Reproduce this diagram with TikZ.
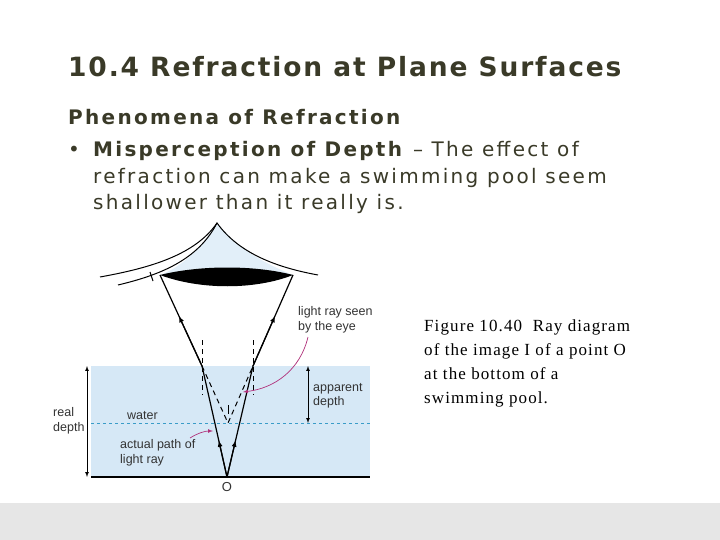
\documentclass[tikz,border=0pt]{standalone}
\usepackage{fontspec}
\usetikzlibrary{calc}
\setmainfont{DejaVu Sans}
\newfontfamily\titlefont[LetterSpace=7]{DejaVu Sans}
\newfontfamily\bodyfont[LetterSpace=11.5]{DejaVu Sans}
\newfontfamily\capfont[LetterSpace=6.5]{Liberation Serif}
\newfontfamily\lblfont{Liberation Sans}
\definecolor{titlec}{HTML}{3A3A28}
\definecolor{waterc}{HTML}{D6E8F6}
\definecolor{dashc}{HTML}{3A9CC8}
\definecolor{magc}{HTML}{B0307A}
\definecolor{bandc}{HTML}{E6E6E6}
\begin{document}
\begin{tikzpicture}[x=1pt,y=-1pt,
  lbl/.style={font=\lblfont\fontsize{12.5}{14.5}\selectfont,text=black!80,align=left,inner sep=0pt},
  ray/.style={line width=1.2pt},
  vdash/.style={line width=1pt,dash pattern=on 5pt off 4pt},
  marr/.style={magc,line width=0.7pt,-latex},
  btext/.style={anchor=base west,inner sep=0pt,text=titlec,font=\bodyfont\fontsize{20}{24}\selectfont}]
\useasboundingbox (0,0) rectangle (720,540);
\fill[white] (0,0) rectangle (720,540);
\fill[bandc] (0,503) rectangle (720,540);
% texts
\node[anchor=base west,inner sep=0pt,text=titlec,font=\titlefont\bfseries\fontsize{26.5}{30}\selectfont] (title) at (68,77) {10.4 Refraction at Plane Surfaces};
\node[btext,font=\bodyfont\bfseries\fontsize{20}{24}\selectfont] (sub) at (68,125) {Phenomena of Refraction};
\node[btext] (bul) at (68,157) {•};
\node[btext] (body) at (93,157) {\textbf{Misperception of Depth} – The ef{}fect of};
\node[btext] (body2) at (93,184) {refraction can make a swimming pool seem};
\node[btext] (body3) at (93,210) {shallower than it really is.};
\node[anchor=north west,inner sep=0pt,font=\capfont\fontsize{17}{24}\selectfont,align=left] (cap) at (424,320) {Figure 10.40\ \ Ray diagram\\of the image I of a point O\\at the bottom of a\\swimming pool.};
% water
\fill[waterc] (91,366) rectangle (370,477);
\draw[dashc,dashed,line width=1pt] (91,423) -- (370,423);
\draw[line width=1.2pt] (91,477) -- (370,477);
% eye
\fill[waterc!70] (217,223) .. controls (200,250) and (180,268) .. (160,275) -- (293,275) .. controls (260,262) and (235,245) .. (217,223) -- cycle;
\draw[line width=1pt] (100,277) .. controls (150,268) and (195,255) .. (217,223) .. controls (240,255) and (280,268) .. (318,275);
\draw[line width=1pt] (118,285) .. controls (160,275) and (198,260) .. (217,223);
\draw[line width=1pt] (150,272) -- (153,281);
\fill (160,275) .. controls (200,290) and (255,290) .. (293,275) .. controls (255,265) and (200,265) .. (160,275) -- cycle;
% rays
\coordinate (O) at (227,477);
\coordinate (L) at (202,366);
\coordinate (R) at (253,366);
\coordinate (E1) at (160,275);
\coordinate (E2) at (293,275);
\coordinate (I) at (228,423);
\draw[ray] (O) -- (L) -- (E1);
\draw[ray] (O) -- (R) -- (E2);
\draw[ray,-latex] (L) -- ($(L)!0.55!(E1)$);
\draw[ray,-latex] (R) -- ($(R)!0.55!(E2)$);
\draw[ray,-latex] (O) -- ($(O)!0.33!(L)$);
\draw[ray,-latex] (O) -- ($(O)!0.33!(R)$);
\draw[vdash] (202,340) -- (202,395);
\draw[vdash] (253,340) -- (253,395);
\draw[vdash] (L) -- (I) -- (R);
\draw[line width=0.8pt] (228,405) -- (228,414);
\node[lbl,font=\lblfont\fontsize{13}{14}\selectfont] (Olbl) at (227,487) {O};
% labels
\node[lbl,anchor=west] (water) at (127,416) {water};
\node[lbl,anchor=west] (real) at (53,421) {real\\depth};
\node[lbl,anchor=west] (app) at (313,396) {apparent\\depth};
\node[lbl,anchor=west] (seen) at (298,320) {light ray seen\\by the eye};
\node[lbl,anchor=west] (act) at (120,453) {actual path of\\light ray};
\draw[latex-latex,line width=0.7pt] (87,366) -- (87,477);
\draw[latex-latex,line width=0.7pt] (308,366) -- (308,423);
\draw[marr] (308,337) .. controls (300,370) and (275,388) .. (243,392);
\draw[marr] (190,438) .. controls (198,433) and (205,431) .. (213,431);
\end{tikzpicture}
\end{document}
